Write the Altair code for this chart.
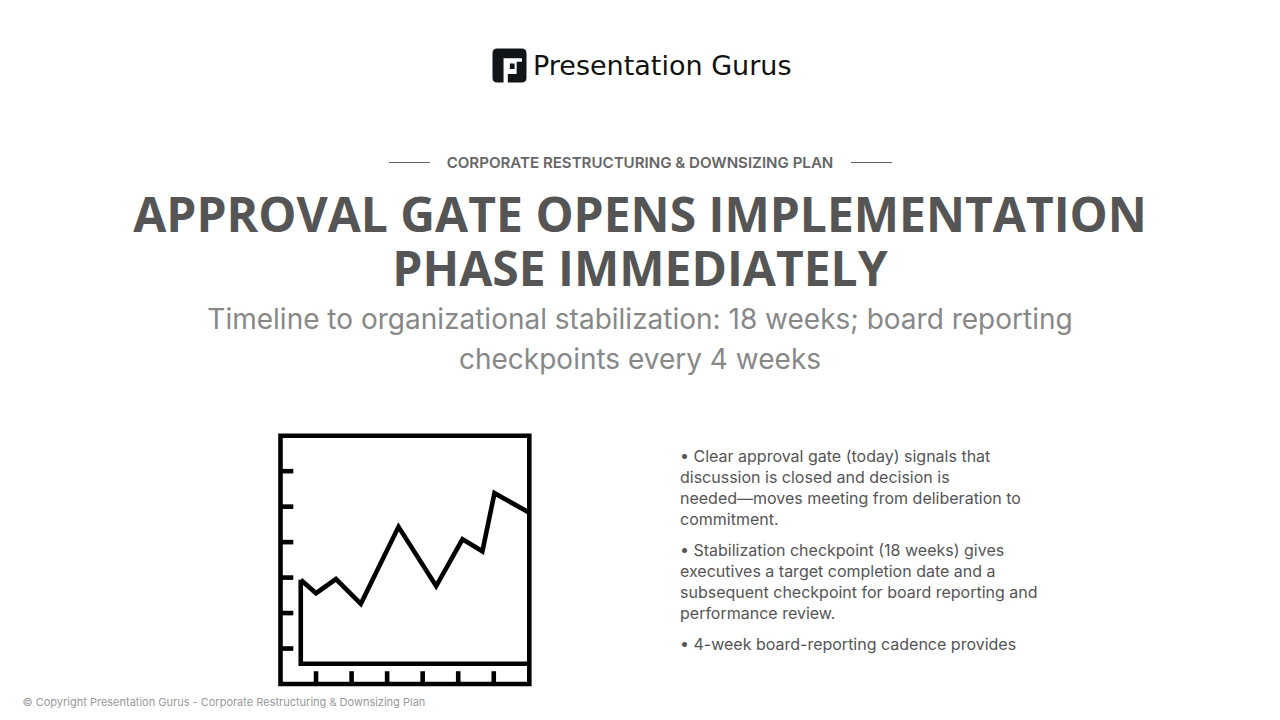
import altair as alt
import pandas as pd

OFFSET = 8  # page margin

logo_text = "Presentation Gurus"
eyebrow = "CORPORATE RESTRUCTURING & DOWNSIZING PLAN"
title_lines = ["APPROVAL GATE OPENS IMPLEMENTATION", "PHASE IMMEDIATELY"]
subtitle_lines = [
    "Timeline to organizational stabilization: 18 weeks; board reporting",
    "checkpoints every 4 weeks",
]
bullet_lines = [
    "• Clear approval gate (today) signals that",
    "discussion is closed and decision is",
    "needed—moves meeting from deliberation to",
    "commitment.",
    "• Stabilization checkpoint (18 weeks) gives",
    "executives a target completion date and a",
    "subsequent checkpoint for board reporting and",
    "performance review.",
    "• 4-week board-reporting cadence provides",
]
bullet_tops = [457, 478, 499, 520, 551, 572, 593, 614, 645]
footer = "© Copyright Presentation Gurus - Corporate Restructuring & Downsizing Plan"

# icon chart values
line_x = [0.57, 1.0, 1.56, 2.26, 3.32, 4.38, 5.12, 5.68, 6.02, 7.0]
line_y = [2.94, 2.56, 2.96, 2.26, 4.43, 2.76, 4.08, 3.74, 5.38, 4.83]
base_x = [0.57, 0.57, 7.0]
base_y = [2.94, 0.57, 0.57]
tick_vals = [1, 2, 3, 4, 5, 6]
TICK = 0.36
STROKE = 4.6

x_scale = alt.Scale(domain=[0, 7], range=[280.5 - OFFSET, 529.3 - OFFSET])
y_scale = alt.Scale(domain=[0, 7], range=[684.0 - OFFSET, 435.7 - OFFSET])
X = lambda f: alt.X(f, scale=x_scale, axis=None)
Y = lambda f: alt.Y(f, scale=y_scale, axis=None)


def label(text, x, y, size, color, font="Inter", weight="normal", align="left"):
    d = pd.DataFrame({"t": [text]})
    return (
        alt.Chart(d)
        .mark_text(align=align, baseline="middle", font=font, fontSize=size,
                   fontWeight=weight, color=color)
        .encode(x=alt.value(x - OFFSET), y=alt.value(y - OFFSET), text="t:N")
    )


def hline(x1, x2, y):
    return (
        alt.Chart(pd.DataFrame({"a": [0]}))
        .mark_rule(color="#666666", strokeWidth=1)
        .encode(x=alt.value(x1 - OFFSET), x2=alt.value(x2 - OFFSET), y=alt.value(y - OFFSET))
    )


layers = []

# logo: dark rounded square with the cut out mark
logo_path = (
    "M-0.72 -1 L0.72 -1 Q1 -1 1 -0.72 L1 0.72 Q1 1 0.72 1 L-0.72 1 Q-1 1 -1 0.72 L-1 -0.72 Q-1 -1 -0.72 -1 Z "
    "M-0.35 -0.43 L-0.35 1 L-0.1 1 L-0.1 0.5 L0.42 0.5 L0.42 -0.22 L0.73 -0.22 L0.73 -0.43 Z "
    "M0.02 -0.12 L0.3 -0.12 L0.3 0.2 L0.02 0.2 Z"
)
layers.append(
    alt.Chart(pd.DataFrame({"a": [0]}))
    .mark_point(shape=logo_path, size=1156, filled=True, color="#111418", opacity=1)
    .encode(x=alt.value(509.5 - OFFSET), y=alt.value(65.5 - OFFSET))
)
layers.append(label(logo_text, 533, 67, 27, "#111111", font="DejaVu Sans"))

# heading block
layers.append(hline(389, 430, 162.5))
layers.append(hline(851, 892, 162.5))
layers.append(label(eyebrow, 640, 162.5, 15.08, "#666666", weight=600, align="center"))
layers.append(label(title_lines[0], 640, 218, 48, "#555555", font="Open Sans", weight="bold", align="center"))
layers.append(label(title_lines[1], 640, 272, 48, "#555555", font="Open Sans", weight="bold", align="center"))
layers.append(label(subtitle_lines[0], 640, 321, 28, "#888888", align="center"))
layers.append(label(subtitle_lines[1], 640, 361, 28, "#888888", align="center"))

# icon frame
frame = pd.DataFrame({"x": [0], "x2": [7], "y": [0], "y2": [7]})
layers.append(
    alt.Chart(frame)
    .mark_rect(filled=False, stroke="#000000", strokeWidth=STROKE)
    .encode(x=X("x:Q"), x2="x2:Q", y=Y("y:Q"), y2="y2:Q")
)

# icon ticks
ticks_x = pd.DataFrame({"v": tick_vals, "a": [0] * 6, "b": [TICK] * 6})
layers.append(
    alt.Chart(ticks_x).mark_rule(color="#000000", strokeWidth=STROKE)
    .encode(x=X("v:Q"), y=Y("a:Q"), y2="b:Q")
)
layers.append(
    alt.Chart(ticks_x).mark_rule(color="#000000", strokeWidth=STROKE)
    .encode(y=Y("v:Q"), x=X("a:Q"), x2="b:Q")
)

# icon series and its inner axes
base = pd.DataFrame({"x": base_x, "y": base_y, "o": range(3)})
layers.append(
    alt.Chart(base).mark_line(color="#000000", strokeWidth=STROKE, strokeJoin="miter")
    .encode(x=X("x:Q"), y=Y("y:Q"), order="o:Q")
)
series = pd.DataFrame({"x": line_x, "y": line_y, "o": range(len(line_x))})
layers.append(
    alt.Chart(series).mark_line(color="#000000", strokeWidth=STROKE, strokeJoin="miter")
    .encode(x=X("x:Q"), y=Y("y:Q"), order="o:Q")
)

# bullets
for line, top in zip(bullet_lines, bullet_tops):
    layers.append(label(line, 680, top, 16, "#555555"))

layers.append(label(footer, 22.5, 703, 11, "#999999"))

chart = (
    alt.layer(*layers)
    .properties(width=1264, height=704, padding=0, background="white")
    .configure_view(strokeOpacity=0)
)

chart.save("out.html", embed_options={"renderer": "svg", "actions": False})
